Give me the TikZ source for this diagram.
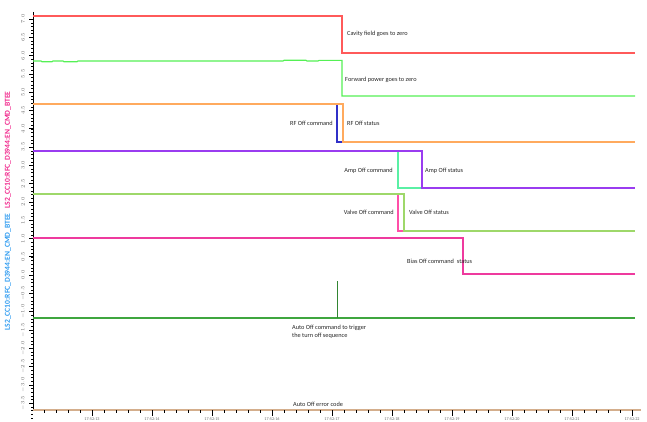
\documentclass[tikz,border=0pt]{standalone}
\usepackage{fontspec}
\setmainfont{Carlito}
\usetikzlibrary{positioning}
\definecolor{cavred}{HTML}{FF5A5A}
\definecolor{fwdgreen}{HTML}{55F055}
\definecolor{rforange}{HTML}{FFAA5E}
\definecolor{rfblue}{HTML}{3030C8}
\definecolor{amppurple}{HTML}{9A3CF0}
\definecolor{ampmint}{HTML}{5AF0A5}
\definecolor{valvegreen}{HTML}{9ED86A}
\definecolor{valvepink}{HTML}{FF4FA8}
\definecolor{biaspink}{HTML}{EE3A9E}
\definecolor{autogreen}{HTML}{3FA63F}
\definecolor{axistan}{HTML}{D4AE8C}
\definecolor{sigpink}{HTML}{F0288C}
\definecolor{sigblue}{HTML}{2E9BF0}

\begin{document}
\begin{tikzpicture}[x=1pt, y=-1pt,
		trace/.style={line width=1.15pt},
		lbl/.style={font=\fontsize{6.3}{7.6}\selectfont, text=black!85, inner sep=0pt},
		ticklbl/.style={font=\fontsize{4.2}{4.6}\selectfont, text=black!60, inner sep=0pt},
		siglbl/.style={font=\fontsize{7.6}{8}\selectfont\bfseries, inner sep=0pt, rotate=90}]
	\useasboundingbox (0,0) rectangle (647,422);

	% Draw the value axis
	\draw[line width=0.5pt] (33,12) -- (33,410);
	\foreach \i in {0,...,21} {
		\pgfmathsetmacro{\yy}{19+18.29*\i}
		\pgfmathsetmacro{\vv}{7.0-0.5*\i}
		\draw[line width=0.6pt] (29,\yy) -- (33,\yy);
		\node[ticklbl, rotate=90] at (23,\yy) {\pgfmathprintnumber[fixed, fixed zerofill, precision=1]{\vv}};
	}
	\foreach \i in {1,...,109} {
		\pgfmathsetmacro{\yy}{19+3.658*\i}
		\draw[line width=0.3pt] (31,\yy) -- (33,\yy);
	}

	% Signal names along the value axis
	\node[siglbl, text=sigpink] (pinkName) at (8,150) {LS2\_CC10:RFC\_D3944:EN\_CMD\_BTEE};
	\node[siglbl, text=sigblue] (blueName) at (8,272) {LS2\_CC10:RFC\_D3944:EN\_CMD\_BTEE};

	% Draw the time axis
	\draw[axistan, line width=1.3pt] (33,410) -- (641,410);
	\foreach \k [count=\s from 13] in {0,...,9} {
		\draw[line width=0.7pt] (92+60*\k,410) -- (92+60*\k,416);
		\node[ticklbl] at (92+60*\k,419) {17:52:\s};
	}
	\foreach \k in {0,...,49} {
		\draw[line width=0.3pt] (44+12*\k,410) -- (44+12*\k,413);
	}

	% Draw the traces
	\draw[trace, cavred] (33,16) -- (342,16) -- (342,53) -- (635,53);
	\draw[trace, fwdgreen] (33,61) -- (41,61) -- (42,61.8) -- (52,61.8) -- (53,61) -- (63,61) -- (64,61.8)
		-- (77,61.8) -- (78,61) -- (283,61) -- (284,60.3) -- (306,60.3) -- (307,61) -- (318,61)
		-- (319,60.4) -- (342,60.4) -- (342,96) -- (635,96);
	\draw[trace, rfblue] (33,104) -- (337,104) -- (337,142) -- (635,142);
	\draw[trace, rforange] (33,104) -- (343,104) -- (343,142) -- (635,142);
	\draw[trace, ampmint] (33,151) -- (398,151) -- (398,188) -- (635,188);
	\draw[trace, amppurple] (33,151) -- (422,151) -- (422,188) -- (635,188);
	\draw[trace, valvepink] (33,194) -- (398,194) -- (398,231) -- (635,231);
	\draw[trace, valvegreen] (33,194) -- (404,194) -- (404,231) -- (635,231);
	\draw[trace, biaspink] (33,238) -- (463,238) -- (463,274) -- (635,274);
	\draw[trace, autogreen] (33,318) -- (635,318);
	\draw[autogreen!80!black, line width=0.8pt] (337,281) -- (337,318);

	% Labels for the traces
	\node[lbl, anchor=west] (cavityLbl) at (347,34) {Cavity field goes to zero};
	\node[lbl, anchor=west] (fwdLbl) at (345,80) {Forward power goes to zero};
	\node[lbl, anchor=east] (rfCmdLbl) at (333,123) {RF Off command};
	\node[lbl, anchor=west] (rfStatLbl) at (347,123) {RF Off status};
	\node[lbl, anchor=east] (ampCmdLbl) at (393,171) {Amp Off command};
	\node[lbl, anchor=west] (ampStatLbl) at (425,171) {Amp Off status};
	\node[lbl, anchor=east] (valveCmdLbl) at (394,212) {Valve Off command};
	\node[lbl, anchor=west] (valveStatLbl) at (409,212) {Valve Off status};
	\node[lbl, anchor=west] (biasLbl) at (407,261) {Bias Off command\hspace{3pt}status};
	\node[lbl, anchor=north west, align=left] (autoLbl) at (292,325) {Auto Off command to trigger\\the turn off sequence};
	\node[lbl, anchor=west] (errLbl) at (293,404) {Auto Off error code};
\end{tikzpicture}
\end{document}
